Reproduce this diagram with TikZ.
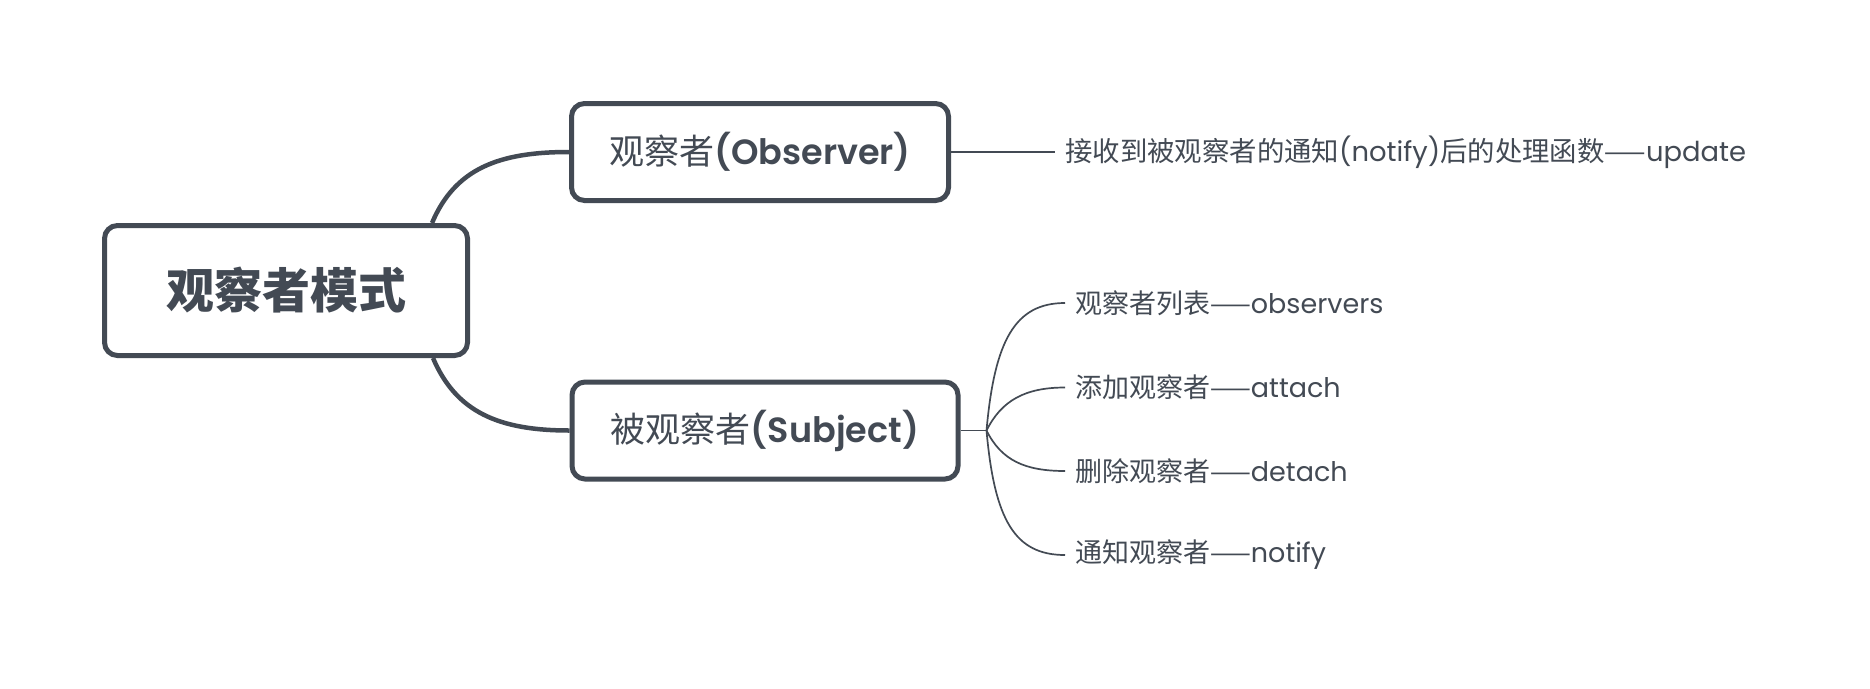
\documentclass[tikz,border=0pt]{standalone}
\usepackage{fontspec}
\newfontfamily\cjk{Noto Sans CJK SC}
\newfontfamily\lat{Poppins}
\newfontfamily\latm{Poppins SemiBold}
\newfontfamily\dashf{Noto Sans CJK SC}[FakeStretch=0.9]
\usetikzlibrary{calc}
\definecolor{ink}{HTML}{434A54}
\tikzset{
  topicbox/.style={draw=ink, line width=5pt, rounded corners=13pt, fill=white, text=ink, inner sep=0pt},
  leaf/.style={anchor=west, inner xsep=10pt, inner ysep=0pt, text=ink, font=\fontsize{27}{32}\selectfont},
  thickline/.style={draw=ink, line width=4.5pt},
  thinline/.style={draw=ink, line width=1.7pt}
}
\begin{document}
\begin{tikzpicture}[x=1pt,y=-1pt]
\useasboundingbox[fill=white] (0,0) rectangle (1870,688);

\node[topicbox, minimum width=363pt, minimum height=130pt] (root) at (286,290.5)
  {\fontsize{48}{57}\selectfont\cjk\bfseries 观察者模式};
\node[topicbox, minimum width=377pt, minimum height=97pt] (obs) at (760,152)
  {\fontsize{35}{42}\selectfont{\cjk 观察者}{\latm (Observer)}};
\node[topicbox, minimum width=386pt, minimum height=97pt] (sub) at (765,430.5)
  {\fontsize{35}{42}\selectfont{\cjk 被观察者}{\latm (Subject)}};

\node[leaf, font=\fontsize{27.4}{32}\selectfont] (upd) at (1055,152)
  {{\cjk 接收到被观察者的通知}{\lat (notify)}{\cjk 后的处理函数}{\dashf ——}{\lat update}};

\node[leaf] (l1) at (1065,303) {{\cjk 观察者列表}{\dashf ——}{\lat observers}};
\node[leaf] (l2) at (1065,387.5) {{\cjk 添加观察者}{\dashf ——}{\lat attach}};
\node[leaf] (l3) at (1065,471) {{\cjk 删除观察者}{\dashf ——}{\lat detach}};
\node[leaf] (l4) at (1065,555) {{\cjk 通知观察者}{\dashf ——}{\lat notify}};

\coordinate (hub) at ($(sub.east)+(26,0)$);

\draw[thickline] ($(root.north east)+(-38,0)$) .. controls +(23,-54) and +(-71,0) .. (obs.west);
\draw[thickline] ($(root.south east)+(-37,0)$) .. controls +(23,54) and +(-71,0) .. (sub.west);

\draw[thinline] (obs.east) -- (upd.west);
\draw[thinline] (sub.east) -- (hub);
\draw[thinline] (hub) .. controls +(8,-90) and +(-50,0) .. (l1.west);
\draw[thinline] (hub) .. controls +(15,-30) and +(-40,0) .. (l2.west);
\draw[thinline] (hub) .. controls +(15,30) and +(-40,0) .. (l3.west);
\draw[thinline] (hub) .. controls +(8,90) and +(-50,0) .. (l4.west);
\end{tikzpicture}
\end{document}
